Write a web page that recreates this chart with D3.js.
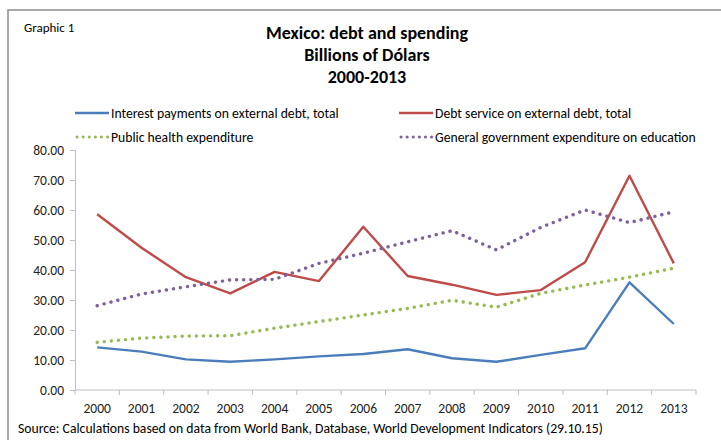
<!DOCTYPE html>
<html>
<head>
<meta charset="utf-8">
<script src="https://cdn.jsdelivr.net/npm/d3@7"></script>
<style>
  body { margin: 0; background: #fff; }
  svg { display: block; font-family: Carlito, Calibri, Lato, sans-serif; }
</style>
</head>
<body>
<svg id="chart" width="721" height="440"></svg>
<script>
const years = [2000, 2001, 2002, 2003, 2004, 2005, 2006, 2007, 2008, 2009, 2010, 2011, 2012, 2013];
const yTicks = [0, 10, 20, 30, 40, 50, 60, 70, 80];

const interestPayments = [14.2, 12.8, 10.2, 9.4, 10.2, 11.2, 12.0, 13.6, 10.6, 9.4, 11.7, 13.9, 35.9, 22.0];
const debtService = [58.6, 47.4, 37.6, 32.2, 39.4, 36.3, 54.4, 38.0, 35.1, 31.7, 33.3, 42.6, 71.4, 42.2];
const healthExpenditure = [15.9, 17.3, 18.0, 18.1, 20.6, 22.8, 25.0, 27.2, 29.9, 27.6, 32.2, 35.0, 37.6, 40.6];
const educationExpenditure = [28.1, 32.0, 34.4, 36.7, 36.9, 42.2, 45.6, 49.4, 53.1, 46.7, 54.2, 60.0, 55.8, 59.4];

const seriesNames = [
  "Interest payments on external debt, total",
  "Debt service on external debt, total",
  "Public health expenditure",
  "General government expenditure on education"
];

const series = [
  { name: seriesNames[0], values: interestPayments, color: "#4a7ebb", dotted: false },
  { name: seriesNames[1], values: debtService, color: "#be4b48", dotted: false },
  { name: seriesNames[2], values: healthExpenditure, color: "#98b954", dotted: true },
  { name: seriesNames[3], values: educationExpenditure, color: "#7d60a0", dotted: true }
];

const svg = d3.select("#chart");
const plot = { left: 75, right: 696, top: 150, bottom: 390 };

// outer frame
svg.append("path")
  .attr("d", `M8,440 V10 H721`)
  .attr("fill", "none")
  .attr("stroke", "#8c8c8c")
  .attr("stroke-width", 1.5);

svg.append("text")
  .attr("x", 24).attr("y", 32)
  .attr("font-size", 13).attr("fill", "#000")
  .text("Graphic 1");

const titleLines = ["Mexico: debt and spending", "Billions of Dólars", "2000-2013"];
svg.selectAll(".title")
  .data(titleLines)
  .join("text")
  .attr("class", "title")
  .attr("x", 367)
  .attr("y", (d, i) => 39 + i * 22)
  .attr("text-anchor", "middle")
  .attr("font-size", 18)
  .attr("font-weight", "bold")
  .attr("fill", "#000")
  .text(d => d);

const x = d3.scaleBand()
  .domain(years)
  .range([plot.left, plot.right]);

const y = d3.scaleLinear()
  .domain([0, 80])
  .range([plot.bottom, plot.top]);

// y axis
const yAxis = svg.append("g")
  .attr("transform", `translate(${plot.left},0)`)
  .call(d3.axisLeft(y).tickValues(yTicks).tickFormat(d3.format(".2f")).tickSize(5).tickPadding(6));
yAxis.select(".domain").attr("stroke", "#bfbfbf");
yAxis.selectAll(".tick line").attr("stroke", "#bfbfbf");
yAxis.selectAll(".tick text")
  .attr("font-family", "Carlito, Calibri, Lato, sans-serif")
  .attr("font-size", 13.5).attr("fill", "#222");

// x axis with ticks between categories
const xAxis = svg.append("g")
  .attr("transform", `translate(0,${plot.bottom})`);
xAxis.append("line")
  .attr("x1", plot.left).attr("x2", plot.right)
  .attr("stroke", "#bfbfbf");
xAxis.selectAll(".xtick")
  .data(years.concat([null]))
  .join("line")
  .attr("class", "xtick")
  .attr("x1", (d, i) => plot.left + i * x.step())
  .attr("x2", (d, i) => plot.left + i * x.step())
  .attr("y1", 0).attr("y2", 5)
  .attr("stroke", "#bfbfbf");
xAxis.selectAll(".xlabel")
  .data(years)
  .join("text")
  .attr("class", "xlabel")
  .attr("x", d => x(d) + x.bandwidth() / 2)
  .attr("y", 23)
  .attr("text-anchor", "middle")
  .attr("font-size", 13.5).attr("fill", "#222")
  .text(d => d);

// lines
const line = d3.line()
  .x((d, i) => x(years[i]) + x.bandwidth() / 2)
  .y(d => y(d));

svg.selectAll(".series")
  .data(series)
  .join("path")
  .attr("class", "series")
  .attr("fill", "none")
  .attr("stroke", d => d.color)
  .attr("stroke-width", d => d.dotted ? 3.4 : 2.4)
  .attr("stroke-linecap", d => d.dotted ? "round" : "butt")
  .attr("stroke-linejoin", "round")
  .attr("stroke-dasharray", d => d.dotted ? "0.1 7" : null)
  .attr("d", d => line(d.values));

// legend
const legendPos = [
  { x: 75, y: 113 }, { x: 399, y: 113 },
  { x: 75, y: 137 }, { x: 399, y: 137 }
];
const legend = svg.selectAll(".legend")
  .data(series)
  .join("g")
  .attr("class", "legend")
  .attr("transform", (d, i) => `translate(${legendPos[i].x},${legendPos[i].y})`);
legend.append("line")
  .attr("x1", d => d.dotted ? 2 : 0).attr("x2", d => d.dotted ? 33 : 34)
  .attr("stroke", d => d.color)
  .attr("stroke-width", d => d.dotted ? 3 : 2.4)
  .attr("stroke-linecap", d => d.dotted ? "round" : "butt")
  .attr("stroke-dasharray", d => d.dotted ? "0.1 6" : null);
legend.append("text")
  .attr("x", 36).attr("y", 4.5)
  .attr("font-size", 13.7).attr("fill", "#000")
  .text(d => d.name);

svg.append("text")
  .attr("x", 18).attr("y", 433)
  .attr("font-size", 13.7).attr("fill", "#000")
  .text("Source: Calculations based on data from World Bank, Database, World Development Indicators (29.10.15)");
</script>
</body>
</html>
